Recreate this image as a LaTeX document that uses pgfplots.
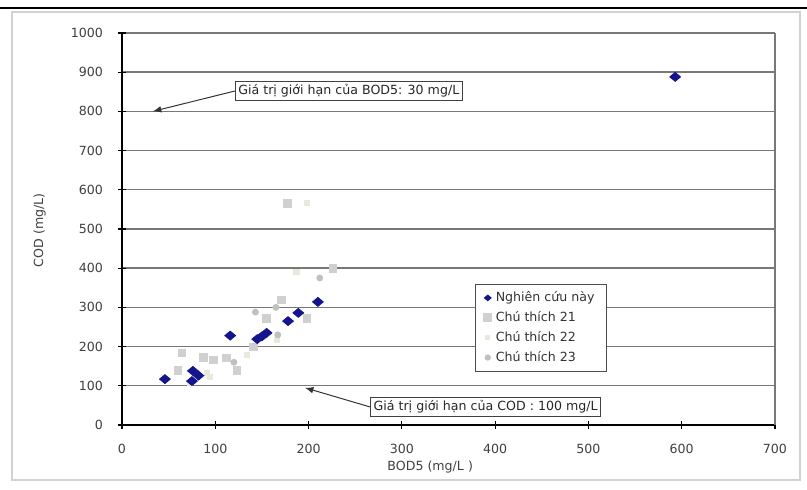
\documentclass[border=0pt]{standalone}
\usepackage{pgfplots}
\pgfplotsset{compat=1.18}
\usepackage{fontspec}
\setmainfont{DejaVu Sans}
\definecolor{navy}{RGB}{20,20,140}
\definecolor{g21}{RGB}{208,208,208}
\definecolor{g22}{RGB}{232,232,220}
\definecolor{g23}{RGB}{192,192,192}
\definecolor{gridc}{RGB}{120,120,120}
\begin{document}
\begin{tikzpicture}[x=0.5pt,y=0.5pt,font=\fontsize{6.3}{7.5}\selectfont]
% page frame (px units, y from bottom)
\path[use as bounding box] (0,0) rectangle (807,490);
\draw[line width=1pt] (0,482) -- (807,482);
\draw[gray!35, line width=0.6pt] (12,10) rectangle (800,478);
\begin{axis}[
  at={(61pt,32.5pt)}, anchor=south west,
  scale only axis, width=326.5pt, height=196pt,
  xmin=0, xmax=700, ymin=0, ymax=1000,
  xtick={0,100,...,700}, ytick={0,100,...,1000},
  axis x line*=bottom, axis y line*=left,
  axis line style={black, line width=0.6pt, -},
  tick align=center, major tick length=4pt,
  tick style={black, line width=0.6pt},
  ymajorgrids=true,
  major grid style={gridc, line width=0.7pt},
  ticklabel style={text=black!75},
  /pgf/number format/assume math mode=true,
  /pgf/number format/1000 sep={},
  xticklabel style={yshift=-4pt},
  yticklabel style={xshift=-4pt},
  xlabel={BOD5 (mg/L )},
  ylabel={COD (mg/L)},
  xlabel style={at={(axis description cs:0.472,-0.107)}, anchor=center, text=black!75},
  ylabel style={at={(axis description cs:-0.126,0.497)}, anchor=center, rotate=0, text=black!75},
  clip=false,
  legend style={at={(axis description cs:0.541,0.36)}, anchor=north west,
    draw=black!70, line width=0.5pt, font=\fontsize{6.3}{7.5}\selectfont,
    row sep=-0.6pt, inner ysep=1.5pt, inner xsep=4pt, cells={anchor=west}, text=black!80},
  legend cell align=left,
  dmd/.style={only marks, mark=diamond*, mark size=3.6pt, color=navy, mark options={yscale=0.62}},
]
\draw[gridc, line width=0.7pt] (rel axis cs:1,0) -- (rel axis cs:1,1);
\addlegendimage{dmd, mark size=2.2pt}
\addlegendentry{Nghiên cứu này}
\addlegendimage{only marks, mark=square*, mark size=2pt, color=g21}
\addlegendentry{Chú thích 21}
\addlegendimage{only marks, mark=square*, mark size=1pt, color=g22}
\addlegendentry{Chú thích 22}
\addlegendimage{only marks, mark=*, mark size=1.3pt, color=g23}
\addlegendentry{Chú thích 23}
\addplot[forget plot, only marks, mark=square*, mark size=1.9pt, color=g21] coordinates {
 (64,184) (87,173) (98,166) (112,171) (123,140) (141,199) (155,272)
 (171,319) (177,566) (198,272) (226,400) (60,140)};
\addplot[forget plot, only marks, mark=square*, mark size=1.3pt, color=g22] coordinates {
 (73,107) (94,122) (134,178) (166,217) (187,390) (91,133) (198,566)};
\addplot[forget plot, only marks, mark=*, mark size=1.5pt, color=g23] coordinates {
 (143,288) (167,230) (212,375) (165,300) (120,160)};
\addplot[forget plot, dmd] coordinates {
 (46,117) (76,138) (82,126) (75,112) (116,228) (145,219) (150,226)
 (155,235) (178,265) (189,286) (210,314) (593,888)};
\node[draw=black!75, line width=0.5pt, anchor=west, inner sep=1.5pt, text=black!85]
  (b1) at (axis cs:121,852) {Giá trị giới hạn của BOD5: 30 mg/L};
\draw[-latex, black!80, line width=0.5pt] (b1.west) -- (axis cs:33,800);
\node[draw=black!75, line width=0.5pt, anchor=west, inner sep=1.5pt, text=black!85]
  (b2) at (axis cs:266,46) {Giá trị giới hạn của COD : 100 mg/L};
\draw[-latex, black!80, line width=0.5pt] (b2.west) -- (axis cs:196,95);
\end{axis}
\end{tikzpicture}
\end{document}
